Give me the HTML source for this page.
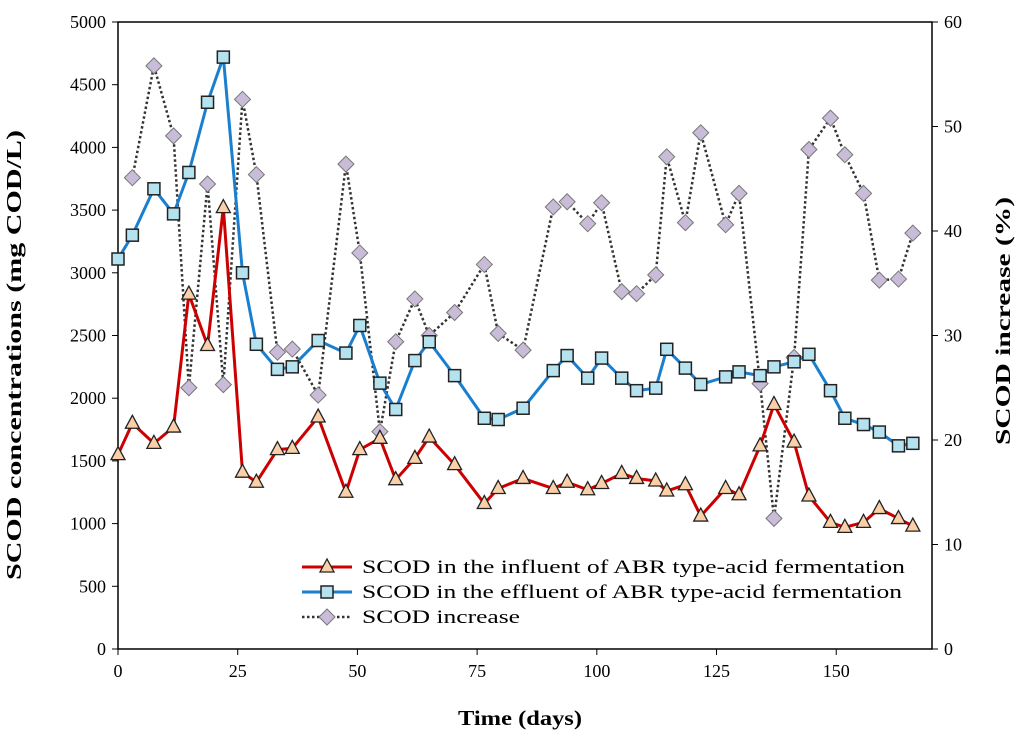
<!DOCTYPE html>
<html><head><meta charset="utf-8"><style>
body{margin:0;background:#fff;}
svg text{font-family:"Liberation Serif",serif;fill:#000;}
</style></head><body>
<svg id="chart" width="1024" height="738" xmlns="http://www.w3.org/2000/svg"></svg>
<script>
const days=[0,3,7.5,11.6,14.8,18.7,22,26,28.9,33.3,36.4,41.8,47.6,50.5,54.7,58,62,65,70.3,76.5,79.4,84.6,90.9,93.8,98.1,101,105.2,108.3,112.3,114.6,118.5,121.7,126.9,129.7,134.1,137,141.2,144.3,148.8,151.8,155.7,159,163,166];
const influent=[1550,1800,1640,1770,2830,2420,3520,1410,1330,1590,1600,1850,1250,1590,1680,1350,1520,1690,1470,1160,1280,1360,1280,1330,1270,1320,1400,1360,1340,1260,1310,1060,1280,1230,1620,1950,1650,1220,1010,970,1010,1120,1040,980];
const effluent=[3110,3300,3670,3470,3800,4360,4720,3000,2430,2230,2250,2460,2360,2580,2120,1910,2300,2450,2180,1840,1830,1920,2220,2340,2160,2320,2160,2060,2080,2390,2240,2110,2170,2210,2180,2250,2290,2350,2060,1840,1790,1730,1620,1640];
const increase=[null,45.1,55.8,49.1,25,44.5,25.3,52.6,45.4,28.4,28.7,24.3,46.4,37.9,20.8,29.4,33.5,30,32.2,36.8,30.2,28.6,42.3,42.8,40.7,42.7,34.2,34,35.8,47.1,40.8,49.4,40.6,43.6,25.4,12.5,27.9,47.8,50.8,47.3,43.6,35.3,35.4,39.8];
const xTicks=[0,25,50,75,100,125,150];
const yLeftTicks=[0,500,1000,1500,2000,2500,3000,3500,4000,4500,5000];
const yRightTicks=[0,10,20,30,40,50,60];

const svg=document.getElementById('chart');
const NS='http://www.w3.org/2000/svg';
const L=118,R=932,T=22,B=649;
const X=d=>L+d/170*(R-L);
const YL=v=>B-v/5000*(B-T);
const YR=v=>B-v/60*(B-T);
function mk(tag,attrs,parent){const e=document.createElementNS(NS,tag);for(const k in attrs)e.setAttribute(k,attrs[k]);(parent||svg).appendChild(e);return e;}

const axes=mk('g',{});


mk('rect',{x:L,y:T,width:R-L,height:B-T,fill:'none',stroke:'#000','stroke-width':1.5},axes);
yLeftTicks.forEach(v=>{const y=YL(v);mk('line',{x1:L-6,x2:L,y1:y,y2:y,stroke:'#000'},axes);
 const t=mk('text',{x:L-12,y:y+6,'text-anchor':'end','font-size':18},axes);t.textContent=v;
 
 });
yRightTicks.forEach(v=>{const y=YR(v);mk('line',{x1:R,x2:R+6,y1:y,y2:y,stroke:'#000'},axes);
 const t=mk('text',{x:R+12,y:y+6,'font-size':18},axes);t.textContent=v;
 
 });
xTicks.forEach(v=>{const x=X(v);mk('line',{x1:x,x2:x,y1:B,y2:B+6,stroke:'#000'},axes);
 const t=mk('text',{x:x,y:B+28,'text-anchor':'middle','font-size':18},axes);t.textContent=v;
 
 });
let t=mk('text',{x:520,y:725,'text-anchor':'middle','font-size':21,'font-weight':'bold',textLength:124,lengthAdjust:'spacingAndGlyphs'});t.textContent='Time (days)';


t=mk('text',{x:0,y:0,'text-anchor':'middle','font-size':21,'font-weight':'bold',textLength:450,lengthAdjust:'spacingAndGlyphs',transform:`translate(21,355) rotate(-90)`});t.textContent='SCOD concentrations  (mg COD/L)';


t=mk('text',{x:0,y:0,'text-anchor':'middle','font-size':21,'font-weight':'bold',textLength:248,lengthAdjust:'spacingAndGlyphs',transform:`translate(1010,321) rotate(-90)`});t.textContent='SCOD increase (%)';



function tri(g,x,y){return mk('polygon',{points:`${x},${y-8} ${x-7},${y+5} ${x+7},${y+5}`,fill:'#fbd0a8',stroke:'#222','stroke-width':1.3},g);}
function sq(g,x,y){return mk('rect',{x:x-6,y:y-6,width:12,height:12,fill:'#b5e2ef',stroke:'#222','stroke-width':1.5},g);}
function dia(g,x,y){return mk('polygon',{points:`${x},${y-8} ${x+8},${y} ${x},${y+8} ${x-8},${y}`,fill:'#c9bcd8',stroke:'#777','stroke-width':1},g);}

const gI=mk('g',{});


let pts=[];days.forEach((d,i)=>{if(increase[i]!=null)pts.push(X(d)+','+YR(increase[i]));});
mk('polyline',{points:pts.join(' '),fill:'none',stroke:'#333','stroke-width':2.5,'stroke-dasharray':'2.5 2.5'},gI);
days.forEach((d,i)=>{if(increase[i]!=null){const m=dia(gI,X(d),YR(increase[i]));
 
 }});

const gE=mk('g',{});


mk('polyline',{points:days.map((d,i)=>X(d)+','+YL(effluent[i])).join(' '),fill:'none',stroke:'#1a7fce','stroke-width':3},gE);
days.forEach((d,i)=>{const m=sq(gE,X(d),YL(effluent[i]));
 
 });

const gF=mk('g',{});


mk('polyline',{points:days.map((d,i)=>X(d)+','+YL(influent[i])).join(' '),fill:'none',stroke:'#cc0000','stroke-width':3},gF);
days.forEach((d,i)=>{const m=tri(gF,X(d),YL(influent[i]));
 
 });

const lg=mk('g',{});


const entries=[['SCOD in the influent of ABR type-acid fermentation','#cc0000',null,tri,567,543],
['SCOD in the effluent of ABR type-acid fermentation','#1a7fce',null,sq,592,540],
['SCOD increase','#333','2.5 2.5',dia,617,158]];
entries.forEach(e=>{const g=mk('g',{},lg);
 
 
 const a={x1:302,x2:352,y1:e[4],y2:e[4],stroke:e[1],'stroke-width':e[2]?2.5:3};if(e[2])a['stroke-dasharray']=e[2];
 mk('line',a,g);e[3](g,327,e[4]);
 const tx=mk('text',{x:362,y:e[4]+6,'font-size':19,textLength:e[5],lengthAdjust:'spacingAndGlyphs'},g);tx.textContent=e[0];});
</script>
</body></html>
